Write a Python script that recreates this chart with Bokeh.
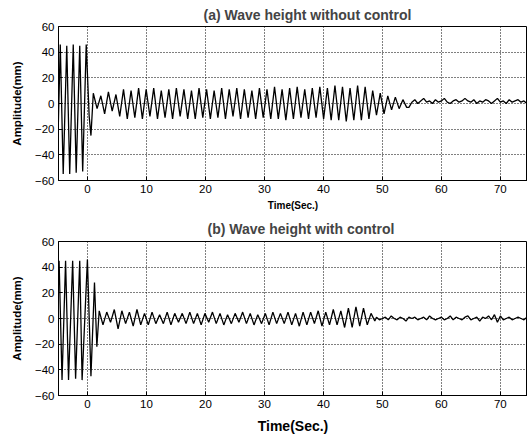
import numpy as np
from bokeh.plotting import figure
from bokeh.layouts import column
from bokeh.models import FixedTicker, Title
from bokeh.embed import file_html
from bokeh.resources import INLINE

# ---------------- data ----------------
x_ticks = [0, 10, 20, 30, 40, 50, 60, 70]
y_ticks = [-60, -40, -20, 0, 20, 40, 60]

# (a) without control : start-up part (irregular times)
a_pre_t = [-5.0, -4.6, -4.1, -3.5, -3.0, -2.4, -1.9, -1.3, -0.8, -0.2, 0.3, 0.6]
a_pre_y = [-30, 46, -55, 45, -55, 46, -54, 45, -53, 46, -10, -25]
# oscillating part, one extreme every 0.64 s starting at t = 1.0
a_osc_start, a_osc_step = 1.0, 0.64
a_osc_y = [8, -4, 6, -8, 9, -6, 7, -10,
           11, -12, 10, -11, 12, -12, 11, -10, 12, -12, 10, -11,
           11, -12, 12, -10, 11, -12, 10, -12, 12, -11, 11, -12,
           10, -11, 12, -12, 11, -10, 12, -12, 11, -11, 10, -12,
           12, -11, 11, -12, 13, -12, 11, -13, 12, -12, 13, -11,
           11, -12, 12, -11, 13, -12, 12, -13, 14, -13, 13, -14,
           12, -13, 14, -13, 13, -12, 10, -9, 8, -8,
           6, -5, 5, -4, 3, -3]
# calm tail, one sample every 0.5 s
a_tail_start, a_tail_step = 54.5, 0.5
a_tail_y = [-3, 1, 3, 0, 2, 4, 1, 2, 0, 3, 1, 2, 4, 1, 0, 2, 3, 1, 2, 4, 2, 1,
            3, 0, 2, 1, 3, 2, 0, 2, 4, 1, 2, 0, 3, 1, 2, 3, 1, 2, 0, 3, 2, 1]

# (b) with control
b_pre_t = [-5.0, -4.8, -4.3, -3.7, -3.2, -2.5, -2.0, -1.3, -0.9, 0.0, 0.6, 1.2, 1.6]
b_pre_y = [15, 45, -48, 45, -48, 45, -47, 45, -48, 46, -45, 28, -22]
b_osc_start, b_osc_step = 2.0, 0.64
b_osc_y = [6, -5, 5, -3, 7, -8, 6, -4, 5, -6, 7, -5,
           4, -5, 5, -4, 3, -4, 5, -5, 4, -3, 4, -4,
           5, -4, 4, -5, 4, -3, 5, -4, 4, -5, 3, -4,
           4, -3, 5, -4, 4, -5, 3, -4,
           4, -5, 5, -4, 4, -4, 5, -5, 4, -6, 5, -5,
           5, -4, 6, -6, 5, -5, 7, -5, 6, -7, 8, -7,
           9, -6, 8, -5, 4, -2]
b_tail_start, b_tail_step = 49.0, 0.5
b_tail_y = [1, -1, 0, 1, -1, 2, 0, -1, 1, 0, -2, 1, 0, 1, -1, 0, 1, -1, 2, 0,
            -1, 0, 1, -1, 0, 2, -1, 1, 0, -1, 1, 2, -1, 0, 1, -2, 1, 0, 2, -1,
            3, -3, 2, -1, 0, 1, -1, 0, 1, 0, -1, 1, 0, 1]


def assemble(pre_t, pre_y, s0, ds, osc, t0, dt, tail):
    t = list(pre_t) + list(s0 + ds * np.arange(len(osc))) + list(t0 + dt * np.arange(len(tail)))
    y = list(pre_y) + list(osc) + list(tail)
    return t, y


ta, ya = assemble(a_pre_t, a_pre_y, a_osc_start, a_osc_step, a_osc_y,
                  a_tail_start, a_tail_step, a_tail_y)
tb, yb = assemble(b_pre_t, b_pre_y, b_osc_start, b_osc_step, b_osc_y,
                  b_tail_start, b_tail_step, b_tail_y)

FONT = "Liberation Sans"


def make_panel(title, t, y, height, top, bottom, xlab_size, xlab_standoff,
               title_offset, title_standoff):
    p = figure(width=527, height=height, x_range=(-4.9, 74.6), y_range=(-60, 60),
               output_backend="svg", toolbar_location=None,
               min_border_left=58, min_border_right=0,
               min_border_top=top, min_border_bottom=bottom)
    p.title = Title(text=title, align="left", offset=title_offset,
                    text_font=FONT, text_font_size="14px", text_font_style="bold",
                    standoff=title_standoff)
    p.line(t, y, line_color="black", line_width=1.3)
    p.outline_line_color = "black"
    p.outline_line_width = 1
    for ax in (p.xaxis, p.yaxis):
        ax.major_label_text_font = FONT
        ax.major_label_text_font_size = "11.5px"
        ax.major_label_text_color = "black"
        ax.axis_line_color = "black"
        ax.major_tick_line_color = "black"
        ax.major_tick_in = 4
        ax.major_tick_out = 0
        ax.minor_tick_line_color = None
        ax.axis_label_text_font = FONT
        ax.axis_label_text_font_style = "bold"
        ax.axis_label_text_color = "black"
    p.xaxis.ticker = FixedTicker(ticks=x_ticks)
    p.yaxis.ticker = FixedTicker(ticks=y_ticks)
    p.xaxis.axis_label = "Time(Sec.)"
    p.xaxis.axis_label_text_font_size = xlab_size
    p.xaxis.axis_label_standoff = xlab_standoff
    p.xaxis.major_label_standoff = 4
    p.yaxis.axis_label = "Amplitude(mm)"
    p.yaxis.axis_label_text_font_size = "11.5px"
    p.yaxis.axis_label_standoff = 9
    p.yaxis.major_label_standoff = 4
    for g in (p.xgrid, p.ygrid):
        g.grid_line_color = "black"
        g.grid_line_dash = "1 2"
        g.grid_line_width = 1
        g.grid_line_alpha = 1
    p.background_fill_color = "white"
    p.border_fill_color = "white"
    return p


pa = make_panel("(a) Wave height without control", ta, ya, 213, 26, 30, "10px", 4, 145, 7)
pb = make_panel("(b) Wave height with control", tb, yb, 225, 28, 43, "14px", 7, 149, 10)

layout = column(pa, pb, spacing=0)
open("out.html", "w").write(file_html(layout, INLINE))
